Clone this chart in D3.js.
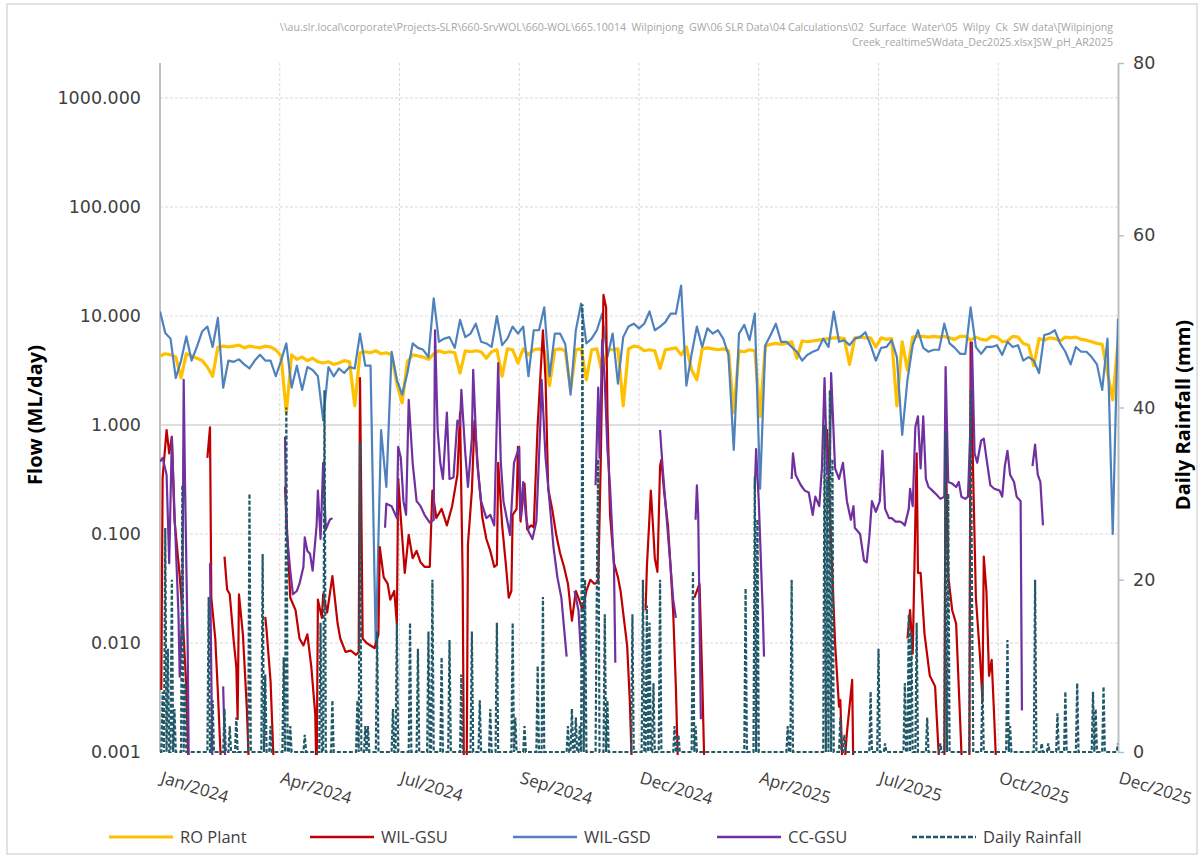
<!DOCTYPE html>
<html>
<head>
<meta charset="utf-8">
<script src="https://cdn.jsdelivr.net/npm/d3@7"></script>
<style>
  body { margin: 0; background: #fff; }
  svg { display: block; }
  .path-note { white-space: pre; }
</style>
</head>
<body>
<div class="flow-chart"></div>
<script>
// ---- DATA ----
// RO Plant and WIL-GSD read every 4 days from 1 Jan 2024 (ML/day)
const stepDays = 4;
const roPlant = [
  4.3, 4.5, 4.4, 4.2, 2.7, 4.5, 4.3, 4.1, 3.9, 3.4,
  2.8, 5.2, 5.3, 5.2, 5.3, 5.4, 5.1, 5.3, 5.2, 5.1,
  5.3, 5.2, 4.9, 4.3, 1.3, 4.4, 4.0, 4.2, 3.9, 4.1,
  3.8, 3.7, 3.8, 3.6, 3.7, 3.9, 3.8, 1.5, 4.6, 4.7,
  4.6, 4.8, 4.5, 4.6, 4.4, 2.4, 1.6, 3.8, 4.4, 4.3,
  4.2, 4.0, 4.5, 4.8, 4.6, 4.7, 4.6, 3.0, 4.8, 4.7,
  4.8, 4.7, 4.1, 4.7, 4.9, 2.8, 5.0, 4.9, 3.7, 5.0,
  4.4, 4.9, 5.0, 4.8, 2.3, 4.9, 5.0, 4.8, 2.1, 4.9,
  5.0, 2.6, 4.9, 5.0, 3.0, 4.9, 4.9, 5.0, 1.5, 5.0,
  5.3, 5.2, 4.8, 4.9, 4.8, 3.3, 4.9, 5.0, 5.1, 4.4,
  5.2, 3.2, 2.6, 5.0, 5.1, 5.0, 4.9, 5.0, 4.8, 1.3,
  4.8, 4.7, 4.9, 4.8, 1.2, 5.3, 5.5, 5.6, 5.5, 5.6,
  5.8, 4.1, 5.9, 5.8, 5.9, 6.0, 6.1, 6.2, 6.3, 6.3,
  6.2, 3.6, 6.3, 6.4, 6.3, 6.3, 5.2, 6.3, 6.1, 6.2,
  1.5, 5.8, 3.2, 6.4, 6.5, 6.5, 6.4, 6.5, 6.4, 6.5,
  6.3, 6.1, 6.5, 6.5, 6.0, 6.4, 6.1, 6.0, 6.5, 6.4,
  5.8, 5.9, 6.5, 6.4, 5.6, 5.4, 3.5, 6.2, 6.0, 6.3,
  6.2, 5.9, 6.4, 6.3, 6.4, 6.1, 6.0, 5.8, 5.6, 5.5,
  3.0, 1.7, 5.8
];
const wilGsd = [
  11, 7, 6.2, 2.7, 3.9, 6.5, 3.9, 5.2, 7.2, 8.0,
  5.2, 9.6, 2.2, 3.9, 3.8, 4.0, 3.6, 3.3, 3.9, 4.4,
  3.9, 3.9, 2.8, 3.9, 5.6, 2.2, 3.5, 2.1, 3.4, 3.2,
  2.8, 1.1, 3.4, 2.8, 3.3, 3.0, 3.4, 3.3, 6.9, 3.5,
  3.5, 0.009, 0.9, 0.27, 4.7, 2.6, 1.9, 3.0, 5.6, 5.1,
  4.9, 4.2, 14.5, 5.8, 6.2, 6.4, 5.1, 9.2, 6.4, 6.9,
  8.5, 5.8, 5.6, 5.2, 10, 5.4, 6.2, 8.0, 6.9, 8.0,
  2.8, 7.4, 7.4, 12, 2.8, 6.9, 6.9, 5.5, 1.9, 7.4,
  13, 5.6, 6.2, 7.4, 10.5, 4.2, 6.9, 2.4, 6.4, 8.0,
  8.5, 7.7, 8.5, 11, 7.4, 8.0, 8.8, 10.5, 10.5, 19,
  2.3, 4.5, 8.0, 5.2, 7.7, 6.9, 7.4, 6.2, 4.4, 0.59,
  6.9, 8.3, 6.0, 10.5, 0.26, 5.4, 6.7, 8.5, 5.8, 5.8,
  5.2, 4.7, 3.9, 4.4, 4.7, 4.9, 6.2, 5.2, 11, 5.8,
  6.0, 5.4, 6.2, 6.4, 7.1, 5.4, 3.9, 5.1, 5.2, 6.0,
  4.2, 0.81, 2.6, 5.4, 7.4, 5.1, 4.7, 4.9, 4.9, 8.5,
  5.6, 5.1, 4.5, 4.5, 12, 5.2, 4.5, 5.2, 5.2, 5.4,
  4.4, 5.8, 5.2, 5.4, 3.9, 4.2, 3.9, 3.0, 6.7, 6.9,
  7.4, 5.6, 4.7, 3.6, 5.2, 4.7, 4.7, 4.2, 3.6, 2.1,
  6.2, 0.10, 9.5
];

// WIL-GSU and CC-GSU: day since 1 Jan 2024 and flow (null = no record)
const wilGsuDay = [
  1, 2, 5, 7, 9, 11, 15, 17, 20, 22, 23,
  36, 38, 39, 42, 44, 47, 48,
  49, 51, 53, 56, 58, 59, 60, 63, 66, 68, 69,
  80, 81, 84, 87, 88,
  95, 99, 103, 106, 109, 112, 115, 118, 119, 120, 123, 124, 127, 131, 135, 137, 141, 145, 149, 151,
  152, 154, 157, 163, 166, 167, 170, 173, 175, 178, 180, 181, 183, 186, 189, 192, 195, 198, 201,
  205, 207, 210, 214, 218, 222, 226, 228, 230, 231, 233, 234, 237, 239, 242, 245, 248, 251, 254,
  256, 257, 260, 263, 265, 267, 268, 271, 272, 274, 277, 279, 282, 284, 287, 291, 293, 295, 298,
  301, 304, 307, 310, 313, 316, 319, 321, 324, 327, 330, 333, 335, 337, 339, 340, 342, 345, 348,
  350, 353, 355, 357, 359, 360,
  369, 370, 373, 375, 376, 378, 380, 381, 383, 386, 388, 390, 392, 394, 395,
  406, 408, 410, 412, 414, 415,
  505, 507, 510, 513, 516, 517, 519, 522, 526, 527, 528,
  568, 570, 572, 575, 576, 578, 581, 585, 589, 593, 594,
  596, 597, 599, 602, 605, 608, 610, 611,
  615, 616, 618, 620, 623, 625, 626, 628, 630, 632, 634, 636
];
const wilGsu = [
  0.0037, 0.33, 0.9, 0.55, 0.78, 0.135, 0.041, 0.019, 0.004, 0.0005, null,
  0.5, 0.95, 0.026, 0.011, 0.0035, 0.0005, null,
  0.062, 0.031, 0.028, 0.0105, 0.006, 0.002, 0.028, 0.012, 0.0025, 0.0005, null,
  0.0174, 0.013, 0.0045, 0.0005, null,
  0.27, 0.026, 0.02, 0.011, 0.0095, 0.012, 0.006, 0.0022, 0.0005, 0.025, 0.017, 0.028, 0.019, 0.041, 0.015, 0.011, 0.0083, 0.0085, 0.0078, 0.0082,
  2.7, 0.011, 0.01, 0.009, 0.012, 0.076, 0.04, 0.035, 0.025, 0.03, 0.015, 0.32, 0.14, 0.044, 0.098, 0.06, 0.07, 0.055, 0.05,
  0.05, 0.25, 0.14, 0.17, 0.12, 0.18, 0.35, 1.3, 0.04, 0.0005, 0.0005, 0.08, 0.25, 1.1, 0.35, 0.14, 0.09, 0.07, 0.05,
  0.052, 0.45, 0.12, 0.05, 0.026, 0.03, 0.15, 0.17, 0.63, 0.13, 0.29, 0.11, 0.12, 0.115, 1.0, 7.4, 2.6, 0.26, 0.17,
  0.1, 0.067, 0.05, 0.035, 0.016, 0.03, 0.024, 0.02, 0.03, 0.038, 0.035, 0.036, 0.5, 15.6, 12, 1.3, 0.15, 0.054, 0.04,
  0.03, 0.015, 0.0094, 0.003, 0.0005, null,
  0.02, 0.05, 0.25, 0.1, 0.06, 0.045, 0.42, 0.48, 0.25, 0.12, 0.05, 0.019, 0.004, 0.0005, null,
  0.026, 0.03, 0.035, 0.005, 0.0005, null,
  0.6, 0.9, 0.08, 0.01, 0.0026, 0.003, 0.0005, 0.0015, 0.0046, 0.0005, null,
  0.011, 0.02, 0.008, 0.55, 0.044, 0.044, 0.012, 0.005, 0.004, 0.0005, null,
  0.0005, 0.85, 0.041, 0.02, 0.015, 0.002, 0.0005, null,
  0.0005, 5.7, 0.32, 0.026, 0.008, 0.003, 0.062, 0.03, 0.005, 0.007, 0.002, 0.0005
];

const ccGsuDay = [
  0, 2, 5, 7, 9, 11, 14, 15, 17, 18, 19, 21, 22, 23,
  38, 40, 41,
  48, 50, 51,
  95, 96, 99, 101, 104, 106, 109, 110, 112, 114, 116, 119, 120, 122, 123, 124, 126, 129, 131, 132,
  171, 172, 176, 180, 181, 183, 185, 187, 189, 192, 195, 198, 201, 205, 208, 209, 211, 213, 215,
  218, 220, 223, 226, 228, 229, 232, 234, 237, 238, 241, 244, 248, 251, 254, 257, 259, 261, 264,
  266, 269, 273, 274, 276, 278, 280, 283, 286, 289, 290, 293, 296, 299, 302, 305, 309, 310,
  315, 318, 320, 321,
  331, 333, 334, 336, 338, 340, 342, 345, 346, 347,
  380, 382, 385, 388, 390, 392, 393,
  407, 408, 409, 411, 412,
  452, 453, 455, 458, 459, 460,
  480, 481, 483, 487, 490, 493, 496, 498, 501, 503, 505, 507, 509, 510, 513, 516, 519, 522, 525,
  527, 528, 532, 535, 537, 539, 541, 544, 547, 549, 551, 554, 556, 559, 562, 564, 566, 569, 570,
  572, 574, 576, 578, 580, 582, 584, 587, 590, 593, 596, 597, 599, 602, 605, 607, 609, 612, 614,
  616, 617, 619, 621, 624, 626, 628, 631, 634, 638, 640, 642, 644, 646, 649, 651, 654, 655, 656,
  663, 665, 667, 669, 671
];
const ccGsu = [
  0.46, 0.5, 0.35, 0.054, 0.78, 0.16, 0.019, 0.0049, 0.02, 2.6, 0.3, 0.01, 0.0005, null,
  0.054, 0.0005, null,
  0.004, 0.0005, null,
  0.78, 0.114, 0.046, 0.028, 0.03, 0.035, 0.05, 0.093, 0.07, 0.066, 0.046, 0.12, 0.25, 0.09, 0.2, 0.45, 0.11, 0.135, 0.14, null,
  0.114, 0.19, 0.18, 0.14, 0.63, 0.5, 0.2, 0.15, 1.7, 0.45, 0.2, 0.18, 0.15, 0.127, 0.135, 7.4, 0.9, 0.45, 0.32,
  1.3, 0.32, 0.33, 1.1, 1.0, 2.1, 0.55, 0.27, 0.75, 3.2, 0.45, 0.2, 0.14, 0.15, 0.12, 3.7, 0.45, 0.2, 0.13,
  0.098, 0.45, 0.63, 0.14, 0.3, 0.15, 0.106, 0.09, 0.13, 1.0, 2.6, 0.5, 0.2, 0.076, 0.04, 0.026, 0.0075, null,
  0.03, 0.02, 0.0075, null,
  0.28, 2.2, 0.5, 6, 2.5, 0.6, 0.27, 0.05, 0.0066, null,
  0.9, 0.4, 0.14, 0.05, 0.025, 0.017, null,
  0.135, 0.28, 0.15, 0.002, null,
  0.26, 0.6, 0.2, 0.02, 0.0075, null,
  0.32, 0.55, 0.35, 0.28, 0.25, 0.24, 0.15, 0.22, 0.18, 0.4, 2.7, 0.35, 0.4, 3.0, 0.4, 0.32, 0.45, 0.2, 0.135,
  0.18, 0.114, 0.1, 0.057, 0.055, 0.093, 0.2, 0.16, 0.2, 0.58, 0.17, 0.14, 0.14, 0.13, 0.13, 0.127, 0.12, 0.17, 0.26,
  0.18, 0.96, 1.2, 0.4, 1.2, 0.32, 0.27, 0.25, 0.23, 0.21, 0.22, 3.4, 0.3, 0.29, 0.27, 0.3, 0.22, 0.21, 0.22,
  1.1, 5.7, 0.55, 0.45, 0.72, 0.75, 0.5, 0.28, 0.26, 0.25, 0.22, 0.42, 0.58, 0.35, 0.3, 0.22, 0.2, 0.0024, null,
  0.42, 0.66, 0.35, 0.3, 0.12
];

// Daily rainfall (mm): rain days since 1 Jan 2024, every other day is 0
const rainDay = [
  2, 4, 6, 9, 11, 17, 19, 37, 40, 49, 53, 58, 68, 78, 80, 84, 94, 96, 99, 110,
  122, 125, 131, 150, 152, 156, 158, 165, 177, 180, 190, 196, 204, 207, 214, 220, 229, 237, 243, 251,
  256, 268, 270, 277, 287, 291, 310, 313, 316, 319, 321, 323, 332, 333, 338, 340, 359, 367, 370, 372,
  375, 380, 391, 394, 405, 407, 445, 452, 454, 477, 480, 505, 507, 509, 511, 517, 520, 540, 546, 551,
  566, 569, 571, 575, 583, 593, 597, 599, 616, 617, 625, 644, 646, 665, 670, 675, 682, 688, 697, 709,
  711, 717, 728
];
const rainMm = [
  7, 26, 12, 20, 5, 31, 8, 18, 6, 5, 3, 4, 30, 23, 9, 3, 11, 40, 3, 2,
  15, 42, 6, 6, 36, 3, 3, 14, 5, 15, 15, 12, 14, 20, 11, 13, 9, 14, 6, 5,
  15, 15, 4, 3, 10, 18, 3, 5, 4, 3, 52, 20, 20, 34, 16, 6, 16, 20, 17, 15,
  8, 20, 3, 2, 21, 3, 19, 32, 27, 3, 20, 38, 32, 42, 34, 4, 2, 7, 12, 1,
  8, 16, 14, 15, 4, 1, 37, 30, 42, 20, 8, 13, 3, 20, 1, 1, 4.5, 7, 8, 7,
  5, 7.6, 1
];
const totalDays = 728;

const flowTicks = [0.001, 0.01, 0.1, 1, 10, 100, 1000];
const rainTicks = [0, 20, 40, 60, 80];
const dateLabels = ["Jan/2024", "Apr/2024", "Jul/2024", "Sep/2024", "Dec/2024",
                    "Apr/2025", "Jul/2025", "Oct/2025", "Dec/2025"];
const labelStepDays = 91;

const seriesNames = ["RO Plant", "WIL-GSU", "WIL-GSD", "CC-GSU", "Daily Rainfall"];
const seriesColors = ["#FFC000", "#C00000", "#4F81BD", "#7030A0", "#215968"];

const sourcePath = [
  "\\\\au.slr.local\\corporate\\Projects-SLR\\660-SrvWOL\\660-WOL\\665.10014  Wilpinjong  GW\\06 SLR Data\\04 Calculations\\02  Surface  Water\\05  Wilpy  Ck  SW data\\[Wilpinjong",
  "Creek_realtimeSWdata_Dec2025.xlsx]SW_pH_AR2025"
];

// ---- SETUP ----
const width = 1203, height = 858;
const plot = { left: 160, right: 1118, top: 63, bottom: 752 };
const startDate = new Date(2024, 0, 1);
const dayToDate = d => d3.timeDay.offset(startDate, d);

const svg = d3.select(".flow-chart").append("svg")
  .attr("width", width).attr("height", height);

svg.append("rect")
  .attr("x", 7).attr("y", 4).attr("width", 1190).attr("height", 850)
  .attr("fill", "#fff").attr("stroke", "#d9d9d9").attr("stroke-width", 1.5);

const x = d3.scaleTime()
  .domain([startDate, dayToDate(totalDays)])
  .range([plot.left, plot.right]);
const yFlow = d3.scaleLog().domain([0.001, 1000]).range([plot.bottom, 98]);
const yRain = d3.scaleLinear().domain([0, 80]).range([plot.bottom, plot.top]);

const tickDates = dateLabels.map((t, i) => dayToDate(i * labelStepDays));

// gridlines
const grid = svg.append("g");
grid.selectAll(".hgrid")
  .data(flowTicks.filter(v => v !== 0.001 && v !== 1))
  .enter().append("line")
  .attr("x1", plot.left).attr("x2", plot.right)
  .attr("y1", d => yFlow(d)).attr("y2", d => yFlow(d))
  .attr("stroke", "#d9d9d9").attr("stroke-dasharray", "3,2");
grid.selectAll(".vgrid")
  .data(tickDates.slice(1, -1))
  .enter().append("line")
  .attr("x1", d => x(d)).attr("x2", d => x(d))
  .attr("y1", plot.top).attr("y2", plot.bottom)
  .attr("stroke", "#d9d9d9").attr("stroke-dasharray", "3,2");
// category axis crosses at 1.0
grid.append("line")
  .attr("x1", plot.left).attr("x2", plot.right)
  .attr("y1", yFlow(1)).attr("y2", yFlow(1))
  .attr("stroke", "#bfbfbf").attr("stroke-width", 1.2);

// left axis
const leftAxis = svg.append("g")
  .attr("transform", `translate(${plot.left},0)`)
  .call(d3.axisLeft(yFlow).tickValues(flowTicks).tickFormat(d3.format(".3f")).tickSize(0).tickPadding(19));
leftAxis.select(".domain").remove();
leftAxis.selectAll("text")
  .attr("font-family", "DejaVu Sans").attr("font-size", 17.5).attr("fill", "#404040");
svg.append("line")
  .attr("x1", plot.left).attr("x2", plot.left)
  .attr("y1", plot.top).attr("y2", plot.bottom)
  .attr("stroke", "#bfbfbf").attr("stroke-width", 2);

// right axis
const rightAxis = svg.append("g")
  .attr("transform", `translate(${plot.right},0)`)
  .call(d3.axisRight(yRain).tickValues(rainTicks).tickSize(6).tickSizeOuter(0).tickPadding(9));
rightAxis.select(".domain").attr("stroke", "#bfbfbf").attr("stroke-width", 2);
rightAxis.selectAll(".tick line").attr("stroke", "#bfbfbf").attr("stroke-width", 1.5);
rightAxis.selectAll("text")
  .attr("font-family", "DejaVu Sans").attr("font-size", 17.5).attr("fill", "#404040");

// date labels
svg.append("g").selectAll("text")
  .data(tickDates)
  .enter().append("text")
  .attr("transform", d => `translate(${x(d) + 4},${plot.bottom + 17}) rotate(17)`)
  .attr("dominant-baseline", "hanging")
  .attr("font-family", "Open Sans").attr("font-size", 17).attr("fill", "#404040")
  .text((d, i) => dateLabels[i]);

// axis titles
svg.append("text")
  .attr("transform", `translate(42,415) rotate(-90)`)
  .attr("text-anchor", "middle")
  .attr("font-family", "Open Sans").attr("font-weight", "bold").attr("font-size", 20)
  .attr("fill", "#000")
  .text("Flow (ML/day)");
svg.append("text")
  .attr("transform", `translate(1190,415) rotate(-90)`)
  .attr("text-anchor", "middle")
  .attr("font-family", "Open Sans").attr("font-weight", "bold").attr("font-size", 20)
  .attr("fill", "#000")
  .text("Daily Rainfall (mm)");

// file path note
svg.append("g").selectAll("text")
  .data(sourcePath)
  .enter().append("text")
  .attr("class", "path-note")
  .attr("x", 1113).attr("y", (d, i) => 31 + i * 15)
  .attr("text-anchor", "end")
  .attr("font-family", "Open Sans").attr("font-size", 10.6).attr("fill", "#a6a6a6")
  .text(d => d);

// ---- SERIES ----
svg.append("clipPath").attr("id", "plot-clip")
  .append("rect")
  .attr("x", plot.left).attr("y", plot.top - 2)
  .attr("width", plot.right - plot.left).attr("height", plot.bottom - plot.top + 5);

const layer = svg.append("g").attr("clip-path", "url(#plot-clip)");

const flowLine = d3.line()
  .defined(d => d.v != null)
  .x(d => x(dayToDate(d.day)))
  .y(d => yFlow(d.v));

const stepSeries = vals => vals.map((v, i) => ({ day: i * stepDays, v }));
const pairSeries = (days, vals) => days.map((d, i) => ({ day: d, v: vals[i] }));

const rainDaily = d3.range(totalDays + 1).map(d => ({ day: d, v: 0 }));
rainDay.forEach((d, i) => { rainDaily[d].v = rainMm[i]; });

const drawFlow = (data, color, widthPx) => layer.append("path")
  .datum(data)
  .attr("fill", "none")
  .attr("stroke", color)
  .attr("stroke-width", widthPx)
  .attr("stroke-linejoin", "round")
  .attr("d", flowLine);

drawFlow(stepSeries(roPlant), seriesColors[0], 3.2);
drawFlow(stepSeries(wilGsd), seriesColors[2], 2.2);
drawFlow(pairSeries(wilGsuDay, wilGsu), seriesColors[1], 2.2);
drawFlow(pairSeries(ccGsuDay, ccGsu), seriesColors[3], 2.2);

layer.append("path")
  .datum(rainDaily)
  .attr("fill", "none")
  .attr("stroke", seriesColors[4])
  .attr("stroke-width", 2.2)
  .attr("stroke-dasharray", "4,2")
  .attr("d", d3.line().x(d => x(dayToDate(d.day))).y(d => yRain(d.v)));

// ---- LEGEND ----
const legendX = [109, 310, 513, 717, 912];
const legend = svg.append("g").attr("transform", "translate(0,837)");
const item = legend.selectAll("g")
  .data(seriesNames)
  .enter().append("g")
  .attr("transform", (d, i) => `translate(${legendX[i]},0)`);
item.append("line")
  .attr("x1", 0).attr("x2", 64)
  .attr("stroke", (d, i) => seriesColors[i])
  .attr("stroke-width", (d, i) => i === 0 ? 3.2 : 2.4)
  .attr("stroke-dasharray", (d, i) => i === 4 ? "5,2" : null);
item.append("text")
  .attr("x", 71)
  .attr("dy", "0.35em")
  .attr("font-family", "Open Sans").attr("font-size", 16.5).attr("fill", "#404040")
  .text(d => d);
</script>
</body>
</html>
